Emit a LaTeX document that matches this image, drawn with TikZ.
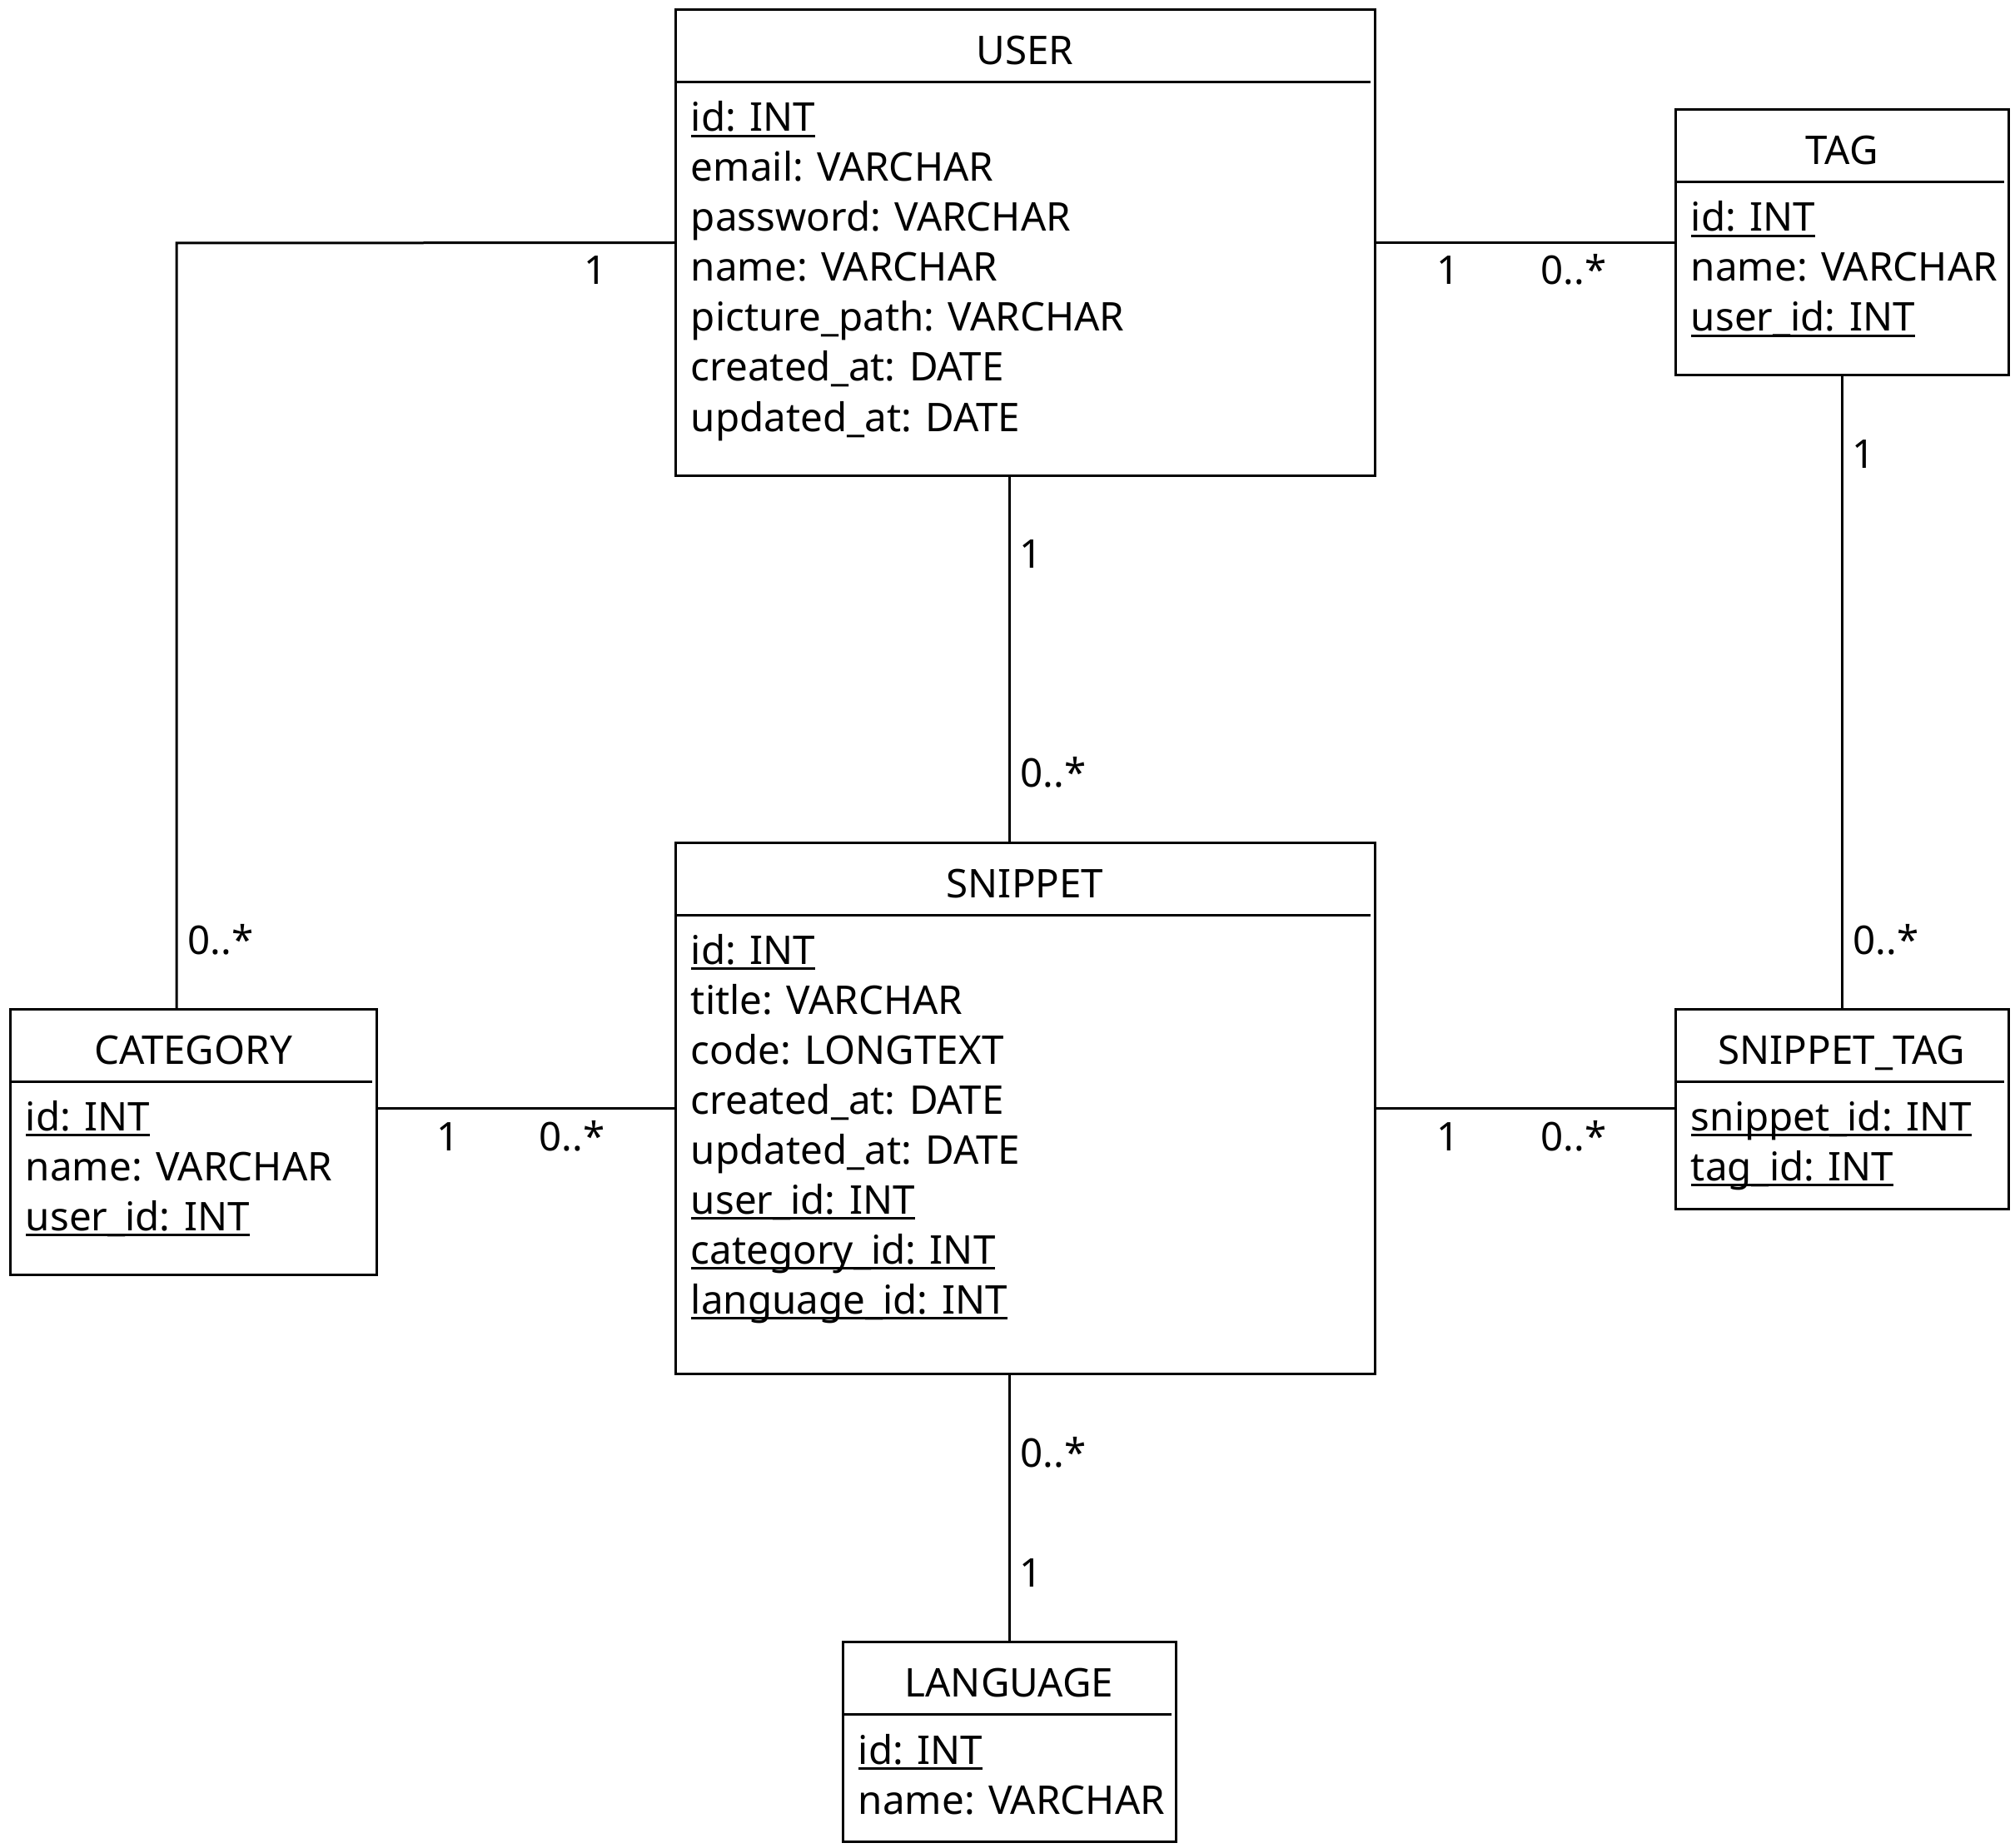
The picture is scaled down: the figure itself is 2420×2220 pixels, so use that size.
\documentclass[tikz,border=0pt]{standalone}
\usepackage{fontspec}
\setmainfont{Noto Sans}
\usetikzlibrary{calc}
\newcommand\ulx[1]{\setbox0=\hbox{#1}\rlap{\rule[-3.5pt]{\wd0}{1.5pt}}\box0}
\begin{document}
\begin{tikzpicture}[x=0.5pt,y=-0.5pt,
  every node/.style={font=\fontsize{23.75pt}{30pt}\selectfont},
  entity/.style={draw, line width=1.5pt, rectangle, inner sep=0pt, outer sep=0pt, anchor=north west},
  ttl/.style={anchor=base, inner sep=0pt},
  attr/.style={anchor=base west, inner sep=0pt},
  mult/.style={anchor=base west, inner sep=0pt},
  multc/.style={anchor=base, inner sep=0pt},
  conn/.style={line width=1.5pt},
  sep/.style={line width=1.5pt}]
\useasboundingbox (0,0) rectangle (2420,2220);

% entities
\node[entity, minimum width=420pt, minimum height=279.5pt] (user) at (811,12) {};
\node[entity, minimum width=200pt, minimum height=159.5pt] (tag) at (2012,132) {};
\node[entity, minimum width=220pt, minimum height=159.5pt] (category) at (12,1212) {};
\node[entity, minimum width=420pt, minimum height=319pt] (snippet) at (811,1012) {};
\node[entity, minimum width=200pt, minimum height=120pt] (snippettag) at (2012,1212) {};
\node[entity, minimum width=200pt, minimum height=120pt] (language) at (1012,1972) {};

% header separators
\foreach \e in {user,tag,category,snippet,snippettag,language}
  \draw[sep] ($(\e.north west)+(0,87)$) -- ($(\e.north east)+(-5,87)$);

% titles
\node[ttl] (user-t) at (1231,78) {USER};
\node[ttl] (tag-t) at (2212,198) {TAG};
\node[ttl] (category-t) at (232,1278) {CATEGORY};
\node[ttl] (snippet-t) at (1231,1078) {SNIPPET};
\node[ttl] (snippettag-t) at (2212,1278) {SNIPPET\_TAG};
\node[ttl] (language-t) at (1212,2038) {LANGUAGE};

% attributes
\foreach \t [count=\i from 0] in {{\ulx{id: INT}},email: VARCHAR,password: VARCHAR,name: VARCHAR,picture\_path: VARCHAR,created\_at: DATE,updated\_at: DATE}
  \node[attr] (user-a\i) at (829.5,{158+60*\i}) {\t};
\foreach \t [count=\i from 0] in {{\ulx{id: INT}},name: VARCHAR,{\ulx{user\_id: INT}}}
  \node[attr] (tag-a\i) at (2030.5,{278+60*\i}) {\t};
\foreach \t [count=\i from 0] in {{\ulx{id: INT}},name: VARCHAR,{\ulx{user\_id: INT}}}
  \node[attr] (category-a\i) at (30.5,{1358+60*\i}) {\t};
\foreach \t [count=\i from 0] in {{\ulx{id: INT}},title: VARCHAR,code: LONGTEXT,created\_at: DATE,updated\_at: DATE,{\ulx{user\_id: INT}},{\ulx{category\_id: INT}},{\ulx{language\_id: INT}}}
  \node[attr] (snippet-a\i) at (829.5,{1158+60*\i}) {\t};
\foreach \t [count=\i from 0] in {{\ulx{snippet\_id: INT}},{\ulx{tag\_id: INT}}}
  \node[attr] (snippettag-a\i) at (2030.5,{1358+60*\i}) {\t};
\foreach \t [count=\i from 0] in {{\ulx{id: INT}},name: VARCHAR}
  \node[attr] (language-a\i) at (1030.5,{2119+60*\i}) {\t};

% connectors
\coordinate (bendc) at (212,292);
\coordinate (xmid) at (1212,0);
\draw[conn] (user.west) -- (bendc) -- (bendc |- category.north);
\draw[conn] (user.east) -- (tag.west);
\draw[conn] (user.south -| xmid) -- (snippet.north -| xmid);
\draw[conn] (category.east |- snippet.west) -- (snippet.west);
\draw[conn] (snippet.east) -- (snippettag.west |- snippet.east);
\draw[conn] (tag.south) -- (snippettag.north);
\draw[conn] (snippet.south -| language.north) -- (language.north);

% multiplicities
\node[multc] (m1) at (715,342) {1};
\node[mult] (m2) at (225,1146) {0..*};
\node[multc] (m3) at (1739,342) {1};
\node[mult] (m4) at (1850,342) {0..*};
\node[multc] (m5) at (1238,682) {1};
\node[mult] (m6) at (1225,945) {0..*};
\node[multc] (m7) at (538,1382) {1};
\node[mult] (m8) at (647,1382) {0..*};
\node[multc] (m9) at (1739,1382) {1};
\node[mult] (m10) at (1850,1382) {0..*};
\node[multc] (m11) at (2238,562) {1};
\node[mult] (m12) at (2225,1146) {0..*};
\node[mult] (m13) at (1225,1762) {0..*};
\node[multc] (m14) at (1238,1906) {1};
\end{tikzpicture}
\end{document}
